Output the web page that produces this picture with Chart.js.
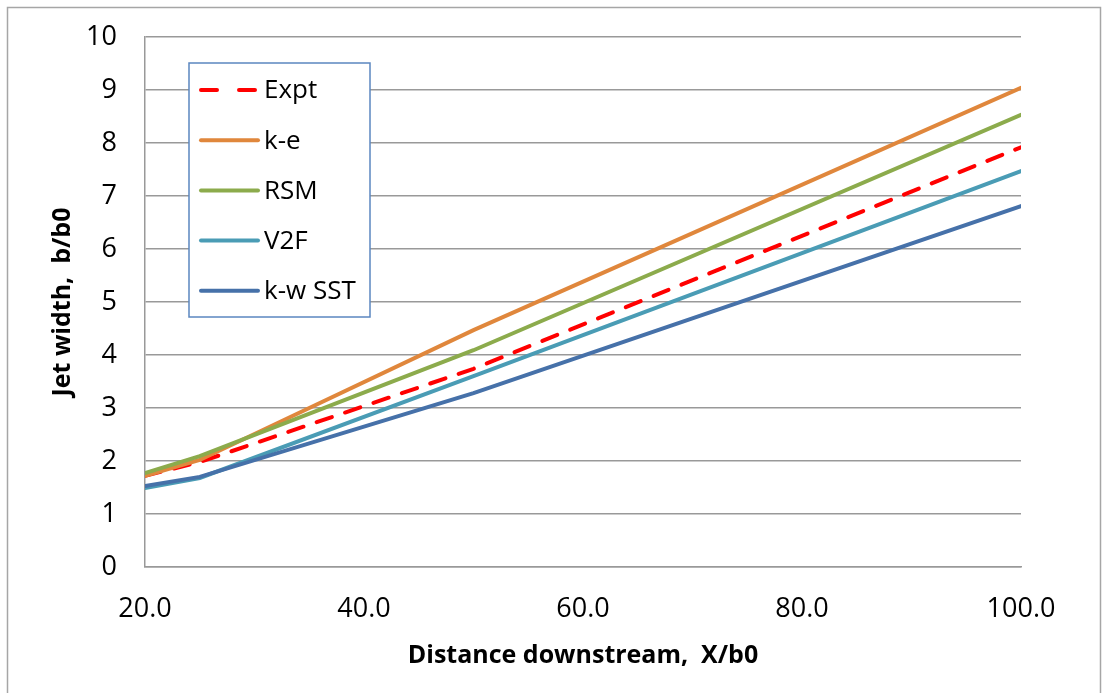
<!DOCTYPE html>
<html>
<head>
<meta charset="utf-8">
<script src="https://cdn.jsdelivr.net/npm/chart.js@4"></script>
<style>
  html, body { margin: 0; padding: 0; background: #fff; }
  #wrap { width: 1107px; height: 693px; }
</style>
</head>
<body>
<div id="wrap"><canvas id="jetChart"></canvas></div>
<script>
// x positions (X/b0) where each series was sampled
const xValues = [20, 25, 50, 100];
const seriesNames = ['Expt', 'k-e', 'RSM', 'V2F', 'k-w SST'];
const expt   = [1.72, 1.98, 3.74, 7.92];
const kE     = [1.72, 2.02, 4.47, 9.04];
const rsm    = [1.77, 2.09, 4.09, 8.53];
const v2f    = [1.49, 1.68, 3.60, 7.47];
const kwSST  = [1.53, 1.70, 3.28, 6.81];
const xTicks = [20, 40, 60, 80, 100];

const colors = ['#ff0000', '#e0873c', '#8cab4c', '#4a9cb5', '#4671a9'];
const allValues = [expt, kE, rsm, v2f, kwSST];

const toPoints = vals => vals.map((v, i) => ({ x: xValues[i], y: v }));

const datasets = allValues.map((vals, i) => ({
    label: seriesNames[i],
    data: toPoints(vals),
    borderColor: colors[i],
    backgroundColor: colors[i],
    borderWidth: 4,
    borderDash: i === 0 ? [16, 14] : [],
    borderCapStyle: 'round',
    pointRadius: 0,
    tension: 0,
    order: 5 - i // later series on top, like the original
}));

// white page with light frame
const frame = {
    id: 'frame',
    beforeDraw(chart) {
        const c = chart.ctx;
        c.save();
        c.fillStyle = '#fff';
        c.fillRect(0, 0, chart.width, chart.height);
        c.strokeStyle = '#a6a6a6';
        c.lineWidth = 1.5;
        c.strokeRect(7.5, 7.5, 1093, 720);
        c.restore();
    }
};

// boxed legend sitting inside the plot
const boxLegend = {
    id: 'boxLegend',
    afterDraw(chart) {
        const c = chart.ctx;
        const x0 = 189, y0 = 63, w = 181, h = 254;
        c.save();
        c.fillStyle = '#fff';
        c.fillRect(x0, y0, w, h);
        c.strokeStyle = '#5b86c0';
        c.lineWidth = 1.5;
        c.strokeRect(x0, y0, w, h);
        c.font = '26px "Open Sans"';
        c.textBaseline = 'middle';
        chart.data.datasets.forEach((ds, i) => {
            const y = 90 + i * 50.2;
            c.strokeStyle = ds.borderColor;
            c.lineWidth = 4;
            c.lineCap = 'round';
            c.setLineDash(ds.borderDash.length ? [16, 22] : []);
            c.beginPath();
            c.moveTo(201, y);
            c.lineTo(258, y);
            c.stroke();
            c.setLineDash([]);
            c.fillStyle = '#000';
            c.fillText(ds.label, 264, y + 1);
        });
        c.restore();
    }
};

new Chart(document.getElementById('jetChart'), {
    type: 'line',
    data: { datasets: datasets },
    plugins: [frame, boxLegend],
    options: {
        responsive: true,
        maintainAspectRatio: false,
        animation: false,
        layout: { padding: { left: 0, top: 37, right: 86, bottom: 0 } },
        plugins: {
            legend: { display: false },
            tooltip: { enabled: false }
        },
        scales: {
            x: {
                type: 'linear',
                min: 20,
                max: 100,
                afterFit: s => { s.height = 126; s.paddingLeft = 0; s.paddingRight = 0; },
                afterBuildTicks: s => { s.ticks = xTicks.map(v => ({ value: v })); },
                ticks: {
                    padding: 26,
                    color: '#000',
                    font: { family: 'Open Sans', size: 27 },
                    callback: v => Number(v).toFixed(1)
                },
                grid: { display: false, drawTicks: false },
                border: { display: true, color: '#999', width: 1.5 },
                title: {
                    display: true,
                    text: 'Distance downstream,  X/b0',
                    color: '#000',
                    font: { family: 'Open Sans', size: 25, weight: 'bold' },
                    padding: { top: 0, bottom: 22 }
                }
            },
            y: {
                min: 0,
                max: 10,
                afterFit: s => { s.width = 145; s.paddingTop = 0; s.paddingBottom = 0; },
                ticks: {
                    stepSize: 1,
                    padding: 28,
                    color: '#000',
                    font: { family: 'Open Sans', size: 27 }
                },
                grid: { color: '#999', lineWidth: 1.5, drawTicks: false },
                border: { display: true, color: '#999', width: 1.5 },
                title: {
                    display: true,
                    text: 'Jet width,  b/b0',
                    color: '#000',
                    font: { family: 'Open Sans', size: 25, weight: 'bold' },
                    padding: { top: 48, bottom: 0 }
                }
            }
        }
    }
});
</script>
</body>
</html>
